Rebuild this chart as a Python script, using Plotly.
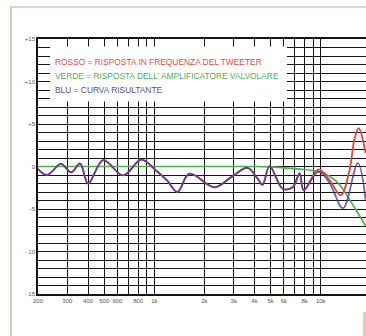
import plotly.graph_objects as go

# Frequency response of tweeter (red), valve amplifier (green) and resulting curve (blue)
red_freq = [200, 227, 275, 316, 358, 400, 493, 650, 835, 1028, 1200, 1376, 1625,
            2300, 2900, 3630, 4150, 4470, 4930, 5900, 6780, 7470, 7900, 9700,
            11300, 13200, 14900, 15900, 16900, 18600]
red_db = [-0.3, -1.0, 0.3, -0.7, 0.35, -2.0, 0.75, -1.05, 0.8, -0.5, -1.7, -3.0, -0.85,
          -2.45, -1.25, -0.15, -1.35, -2.15, 0.05, -2.6, -2.45, -0.8, -2.8, -0.35,
          -1.6, -3.4, -0.4, 3.1, 4.5, 1.6]

blue_freq = [200, 227, 275, 316, 358, 400, 493, 650, 835, 1028, 1200, 1376, 1625,
             2300, 2900, 3630, 4150, 4470, 4930, 5900, 6780, 7470, 7900, 9700,
             11300, 13600, 16700, 18600]
blue_db = [-0.3, -1.0, 0.3, -0.7, 0.35, -2.0, 0.75, -1.05, 0.8, -0.5, -1.7, -3.0, -0.85,
           -2.45, -1.25, -0.15, -1.35, -2.15, 0.05, -2.6, -2.45, -0.8, -2.8, -0.6,
           -1.95, -4.9, 0.4, -3.9]

green_freq = [200, 4000, 5000, 6000, 7500, 10000, 11300, 13000, 14900, 17000, 18600]
green_db = [0.0, 0.0, -0.05, -0.15, -0.3, -0.65, -1.15, -2.15, -3.9, -5.7, -7.0]

x_ticks = [200, 300, 400, 500, 600, 700, 800, 900, 1000, 2000, 3000, 4000, 5000,
           6000, 7000, 8000, 9000, 10000, 20000]
x_labels = ["200", "300", "400", "500", "600", "", "800", "", "1k", "2k", "3k", "4k",
            "5k", "6k", "", "8k", "", "10k", "20k"]
y_ticks = list(range(-15, 16))
y_labels = {15: "+15", 10: "+10", 5: "+5", 0: "0", -5: "-5", -10: "- 10", -15: "- 15"}

legend_lines = [
    ("ROSSO = RISPOSTA IN FREQUENZA DEL TWEETER", "#e8483f"),
    ("VERDE = RISPOSTA DELL\u2019 AMPLIFICATORE VALVOLARE", "#4cb04f"),
    ("BLU = CURVA RISULTANTE", "#5a4a9c"),
]

W, H = 366, 336
ML, MR, MT, MB = 38, 0, 39, 42
PW, PH = W - ML - MR, H - MT - MB


def px(x):
    return (x - ML) / PW


def py(y):
    return (H - MB - y) / PH


fig = go.Figure()
fig.add_trace(go.Scatter(x=green_freq, y=green_db, mode="lines",
                         line=dict(color="#47b34b", width=1.7, shape="spline"),
                         hoverinfo="skip"))
fig.add_trace(go.Scatter(x=red_freq, y=red_db, mode="lines",
                         line=dict(color="#e8423b", width=1.8, shape="spline"),
                         hoverinfo="skip"))
fig.add_trace(go.Scatter(x=blue_freq, y=blue_db, mode="lines", opacity=0.8,
                         line=dict(color="#4a3aa0", width=1.8, shape="spline"),
                         hoverinfo="skip"))

shapes = [
    # white panel behind the colour key
    dict(type="rect", xref="paper", yref="paper", x0=px(50), x1=px(287),
         y0=py(101.5), y1=py(46.5), fillcolor="white", line=dict(width=0),
         layer="above"),
    # beige page frame
    dict(type="line", xref="paper", yref="paper", x0=px(11), x1=px(11),
         y0=py(6), y1=py(340), line=dict(color="#d8cbb6", width=2)),
    dict(type="line", xref="paper", yref="paper", x0=px(11), x1=px(370),
         y0=py(7), y1=py(7), line=dict(color="#e0d6c6", width=2)),
    dict(type="rect", xref="paper", yref="paper", x0=px(363), x1=px(370),
         y0=py(340), y1=py(312), fillcolor="#dcd0bd", line=dict(width=0)),
]

annotations = []
for i, (txt, col) in enumerate(legend_lines):
    annotations.append(dict(text=txt, xref="paper", yref="paper", x=px(53),
                            y=py(62 + i * 14), xanchor="left", yanchor="middle",
                            showarrow=False,
                            font=dict(family="Liberation Sans", size=8.4, color=col)))

fig.update_layout(
    width=W, height=H,
    margin=dict(l=ML, r=MR, t=MT, b=MB, autoexpand=False),
    paper_bgcolor="white", plot_bgcolor="white",
    showlegend=False,
    shapes=shapes, annotations=annotations,
    xaxis=dict(type="log", range=[2.301, 4.272], tickvals=x_ticks, ticktext=x_labels,
               showgrid=True, gridcolor="#141414", gridwidth=1.4,
               showline=True, linecolor="#141414", linewidth=1.5, mirror=True,
               ticks="", zeroline=False,
               tickfont=dict(family="Liberation Sans", size=6, color="#555555")),
    yaxis=dict(range=[-15, 15], tickvals=y_ticks,
               ticktext=[y_labels.get(v, "") for v in y_ticks],
               showgrid=True, gridcolor="#141414", gridwidth=1.4,
               showline=True, linecolor="#141414", linewidth=1.5,
               ticks="", zeroline=False,
               tickfont=dict(family="Liberation Sans", size=6, color="#555555")),
)

fig.write_html("out.html")
